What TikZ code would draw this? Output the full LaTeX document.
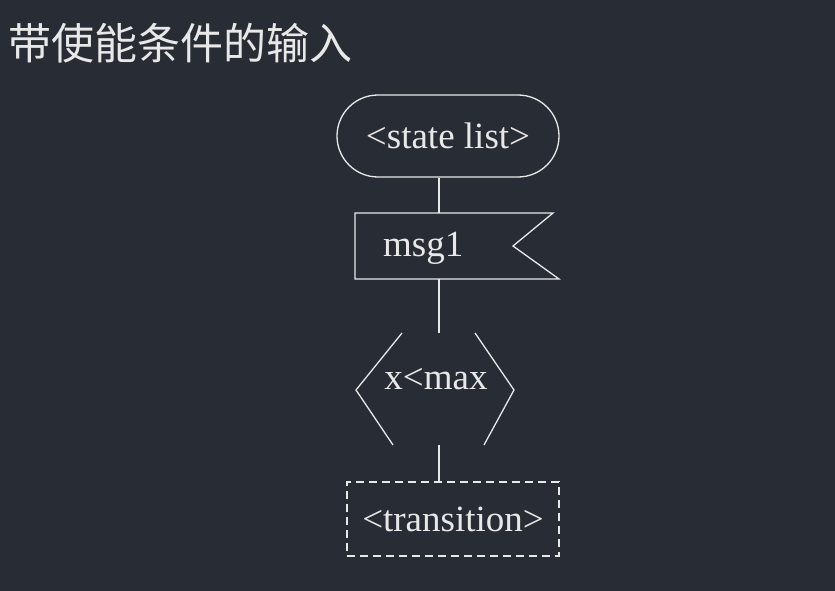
\documentclass[tikz,border=0pt]{standalone}
\usepackage{fontspec}
\setmainfont{Liberation Serif}
\newfontfamily\cjk{Noto Sans CJK SC}
\definecolor{bgdark}{HTML}{282C34}
\definecolor{fgline}{HTML}{E8E8E8}
\tikzset{
    lbl/.style={text=fgline, font=\fontsize{37}{44}\selectfont, inner sep=0pt},
    ln/.style={draw=fgline, line width=1.3pt}
}
\begin{document}
\begin{tikzpicture}[x=1pt, y=-1pt]
    \fill [bgdark] (0, 0) rectangle (835, 591);
    \coordinate (axis) at (439, 0);
    \node [anchor=west, text=fgline, inner sep=0pt, font=\cjk\fontsize{43}{48}\selectfont] (title) at (8, 43) {带使能条件的输入};

    % state
    \node [ln, lbl, rounded corners=41pt, minimum width=222pt, minimum height=82pt] (state) at (448, 136) {<state list>};

    % input signal
    \node [lbl, anchor=west] (msg) at (383, 248) {msg1};
    \draw [ln] (553, 213) -- (355, 213) -- (355, 279) -- (559, 279) -- (513, 246) -- cycle;

    % enabling condition
    \node [lbl] (cond) at (436, 379) {x<max};
    \draw [ln] (402, 333) -- (356, 390) -- (393, 445);
    \draw [ln] (475, 333) -- (514, 390) -- (484, 445);
    \coordinate (condtop) at (439, 333);
    \coordinate (condbot) at (439, 445);

    % next state
    \node [ln, lbl, dash pattern=on 8pt off 5pt, minimum width=212pt, minimum height=74pt] (trans) at (453, 519) {<transition>};

    \draw [ln] (state.south -| axis) -- (axis |- 0, 213);
    \draw [ln] (axis |- 0, 279) -- (condtop);
    \draw [ln] (condbot) -- (trans.north -| axis);
\end{tikzpicture}
\end{document}
